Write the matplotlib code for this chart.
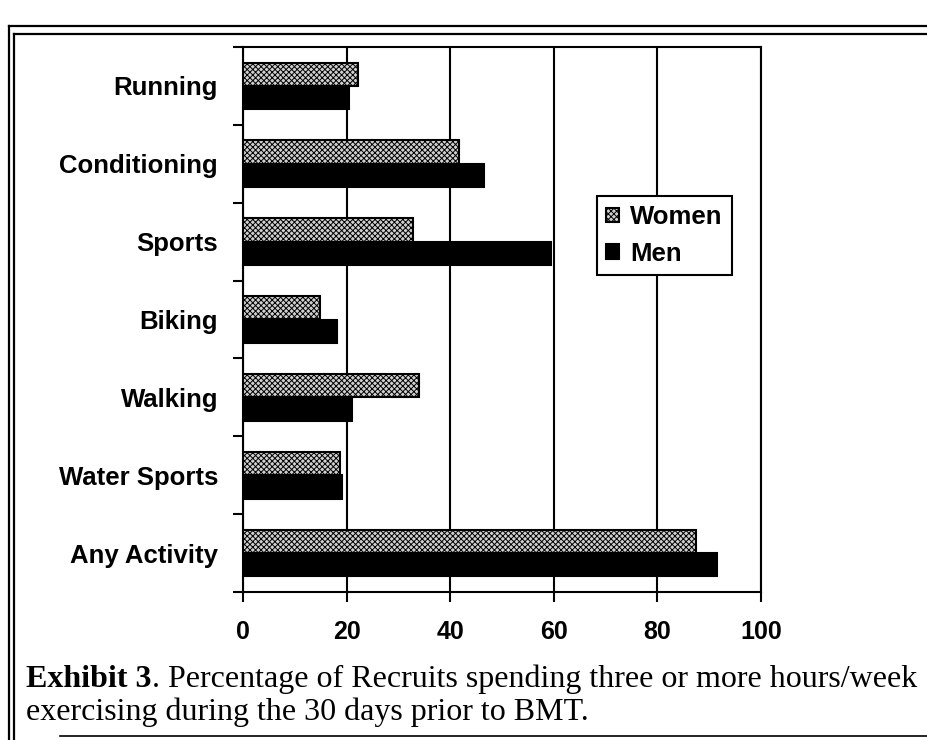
import matplotlib
matplotlib.use("Agg")
import matplotlib.pyplot as plt
import numpy as np
from matplotlib.lines import Line2D

# data (percent)
activities = ["Running", "Conditioning", "Sports", "Biking",
              "Walking", "Water Sports", "Any Activity"]
women = [22.2, 41.7, 32.8, 14.9, 34.0, 18.7, 87.5]
men = [20.5, 46.5, 59.5, 18.1, 21.0, 19.1, 91.5]
xticks = [0, 20, 40, 60, 80, 100]

W, H = 927, 740
plt.rcParams['hatch.linewidth'] = 0.7
fig = plt.figure(figsize=(W / 100, H / 100), dpi=100)
fig.patch.set_facecolor("white")

ax = fig.add_axes([243 / W, 1 - 592 / H, 518 / W, 545 / H])

y = np.arange(len(activities))
bh = 0.3
ax.barh(y - bh / 2, women, height=bh, facecolor="#d0d0d0", edgecolor="black",
        hatch="xxxxxx", linewidth=1.5, label="Women", zorder=3)
ax.barh(y + bh / 2, men, height=bh, facecolor="black", edgecolor="black",
        linewidth=1.5, label="Men", zorder=3)

ax.set_xlim(0, 100)
ax.set_ylim(len(activities) - 0.5, -0.5)

ax.set_xticks(xticks)
ax.set_xticklabels([str(t) for t in xticks], fontsize=18, fontweight="bold",
                   family="Liberation Sans")
ax.tick_params(axis="x", direction="out", length=7, width=1.5, pad=13)
ax.xaxis.grid(True, color="black", linewidth=1.5, zorder=0)
ax.set_axisbelow(True)

ax.set_yticks(y)
ax.set_yticklabels(activities, fontsize=18.5, fontweight="bold",
                   family="Liberation Sans")
ax.set_yticks(np.arange(len(activities) + 1) - 0.5, minor=True)
ax.tick_params(axis="y", which="major", length=0, pad=18)
ax.tick_params(axis="y", which="minor", direction="out", length=7, width=1.5)

for s in ax.spines.values():
    s.set_linewidth(1.5)
    s.set_color("black")

leg = ax.legend(loc="upper left",
                bbox_to_anchor=((597 - 243) / 518, (592 - 196) / 545),
                frameon=True, fancybox=False, framealpha=1, edgecolor="black",
                prop={"family": "Liberation Sans", "weight": "bold", "size": 18.5},
                handlelength=0.5, handleheight=0.5, handletextpad=0.45,
                borderpad=0.35, labelspacing=0.5, borderaxespad=0)
leg.get_frame().set_linewidth(1.5)

# caption: bold lead-in, then regular text
cap1 = fig.text(26 / W, 1 - 687 / H, "Exhibit 3", fontsize=23,
                family="Liberation Serif", fontweight="bold", va="baseline")
fig.canvas.draw()
bb = cap1.get_window_extent()
fig.text(bb.x1 / W, 1 - 687 / H,
         ". Percentage of Recruits spending three or more hours/week",
         fontsize=23, family="Liberation Serif", va="baseline")
fig.text(26 / W, 1 - 720 / H, "exercising during the 30 days prior to BMT.",
         fontsize=23, family="Liberation Serif", va="baseline")


# scanned page frame (double rule at top and left)
def frame_line(x0, y0, x1, y1, lw=1.6):
    fig.add_artist(Line2D([x0 / W, x1 / W], [1 - y0 / H, 1 - y1 / H],
                          color="black", linewidth=lw))


frame_line(9, 26, 927, 26)
frame_line(14, 34, 927, 34)
frame_line(9, 26, 9, 740)
frame_line(14, 34, 14, 740)
frame_line(60, 736, 927, 736, lw=1.2)

fig.savefig("out.png", dpi=100)
